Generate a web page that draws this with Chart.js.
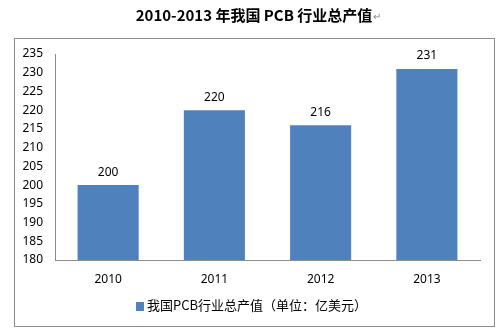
<!DOCTYPE html>
<html>
<head>
<meta charset="utf-8">
<script src="https://cdn.jsdelivr.net/npm/chart.js@4"></script>
<style>
  html, body { margin: 0; padding: 0; background: #fff; }
  #wrap { position: relative; width: 501px; height: 336px; }
</style>
</head>
<body>
<div id="wrap"><canvas id="c" width="501" height="336"></canvas></div>
<script>
const chartTitle = '2010-2013 年我国 PCB 行业总产值';
const years = ['2010', '2011', '2012', '2013'];
const outputValues = [200, 220, 216, 231];
const seriesName = '我国PCB行业总产值（单位：亿美元）';
const yMin = 180, yMax = 235, yStep = 5;

const latinFont = '"Noto Sans", "Noto Sans CJK SC", sans-serif';
const cjkFont = '"Noto Sans CJK SC", "Noto Sans", sans-serif';

// Frame, heading, value labels over the bars and the series key under the axis
const decorations = {
  id: 'decorations',
  beforeDraw(chart) {
    const ctx = chart.ctx;
    ctx.save();
    ctx.fillStyle = '#fff';
    ctx.fillRect(0, 0, chart.width, chart.height);
    ctx.strokeStyle = '#8c8c8c';
    ctx.lineWidth = 1;
    ctx.strokeRect(14.5, 38.5, 480, 288);
    ctx.restore();
  },
  afterDraw(chart) {
    const ctx = chart.ctx;
    ctx.save();
    ctx.fillStyle = '#000';
    ctx.font = 'bold 15px ' + cjkFont;
    ctx.textAlign = 'center';
    ctx.textBaseline = 'middle';
    ctx.fillText(chartTitle, 254, 15);
    const w = ctx.measureText(chartTitle).width;
    ctx.fillStyle = '#888';
    ctx.font = '10px ' + latinFont;
    ctx.textAlign = 'left';
    ctx.fillText('↵', 254 + w / 2 + 1, 17);

    const ds = chart.data.datasets[0];
    const meta = chart.getDatasetMeta(0);
    ctx.fillStyle = '#000';
    ctx.font = '12px ' + latinFont;
    ctx.textAlign = 'center';
    meta.data.forEach((bar, i) => {
      ctx.fillText(String(ds.data[i]), bar.x, bar.y - 13);
    });

    // series key
    ctx.font = '13px ' + cjkFont;
    const tw = ctx.measureText(ds.label).width;
    const keyW = 8 + 3 + tw;
    const kx = 251.5 - keyW / 2;
    const ky = 305;
    ctx.fillStyle = ds.backgroundColor;
    ctx.fillRect(kx, ky - 3, 8, 9);
    ctx.fillStyle = '#000';
    ctx.textAlign = 'left';
    ctx.fillText(ds.label, kx + 11, ky);
    ctx.restore();
  }
};

new Chart(document.getElementById('c'), {
  type: 'bar',
  data: {
    labels: years,
    datasets: [{
      label: seriesName,
      data: outputValues,
      backgroundColor: '#4F81BD',
      borderWidth: 0,
      categoryPercentage: 1,
      barPercentage: 0.575
    }]
  },
  options: {
    responsive: false,
    animation: false,
    devicePixelRatio: 1,
    layout: { padding: { left: 0, right: 21, top: 54, bottom: 40 } },
    plugins: {
      title: { display: false },
      tooltip: { enabled: false },
      legend: { display: false }
    },
    scales: {
      x: {
        grid: { display: false, drawTicks: false },
        border: { display: true, color: '#8c8c8c' },
        ticks: { color: '#000', padding: 12, font: { family: latinFont, size: 12 } },
        afterFit(scale) { scale.height = 36; }
      },
      y: {
        min: yMin,
        max: yMax,
        grid: { display: false, drawTicks: false },
        border: { display: true, color: '#8c8c8c' },
        ticks: { stepSize: yStep, color: '#000', padding: 12, font: { family: latinFont, size: 12 } },
        afterFit(scale) { scale.width = 55; }
      }
    }
  },
  plugins: [decorations]
});
</script>
</body>
</html>
